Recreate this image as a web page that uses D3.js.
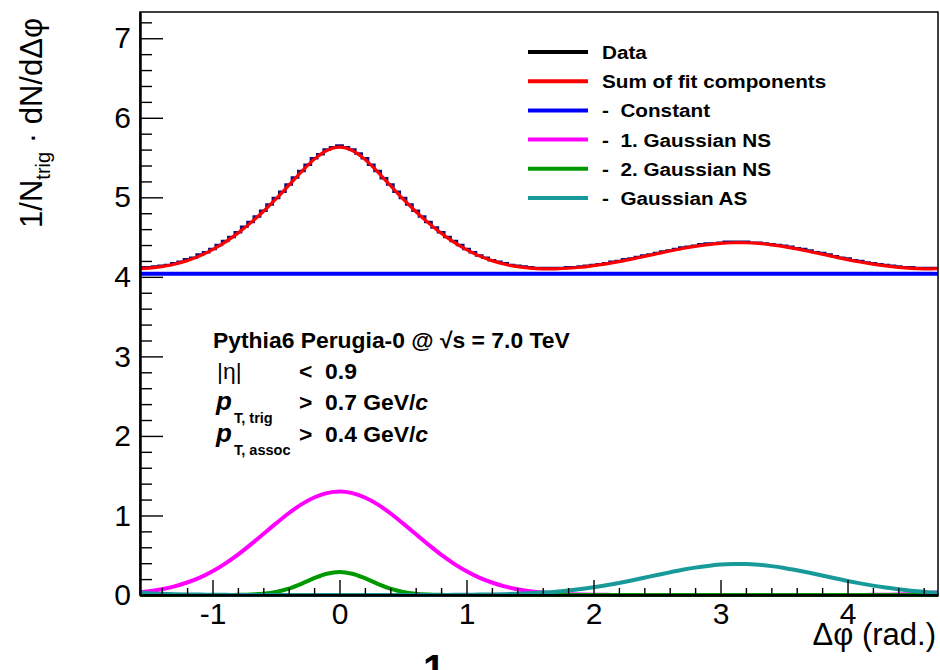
<!DOCTYPE html>
<html><head><meta charset="utf-8">
<script src="https://cdn.jsdelivr.net/npm/d3@7"></script>
<style>body{margin:0;background:#fff}svg{display:block}</style>
</head><body><svg id="c" width="940" height="670"></svg>
<script>
// ---- data ----
const phiGrid = [-1.5708,-1.5,-1.4,-1.3,-1.2,-1.1,-1.0,-0.9,-0.8,-0.7,-0.6,-0.5,-0.4,-0.3,-0.2,-0.1,0,0.1,0.2,0.3,0.4,0.5,0.6,0.7,0.8,0.9,1.0,1.1,1.2,1.3,1.4,1.5,1.6,1.7,1.8,1.9,2.0,2.1,2.2,2.3,2.4,2.5,2.6,2.7,2.8,2.9,3.0,3.1,3.2,3.3,3.4,3.5,3.6,3.7,3.8,3.9,4.0,4.1,4.2,4.3,4.4,4.5,4.6,4.7,4.7124];
const sumFit = [4.103,4.110,4.128,4.158,4.204,4.264,4.342,4.437,4.550,4.679,4.822,4.979,5.149,5.320,5.477,5.589,5.630,5.589,5.477,5.320,5.149,4.979,4.822,4.679,4.550,4.437,4.342,4.264,4.204,4.158,4.128,4.110,4.101,4.101,4.108,4.121,4.141,4.164,4.192,4.223,4.257,4.291,4.325,4.357,4.384,4.406,4.422,4.429,4.429,4.420,4.403,4.380,4.351,4.319,4.285,4.251,4.217,4.187,4.160,4.137,4.119,4.106,4.100,4.102,4.103];
const gaussNS1 = [0.035,0.048,0.073,0.108,0.157,0.219,0.299,0.395,0.507,0.633,0.766,0.900,1.028,1.139,1.226,1.281,1.300,1.281,1.226,1.139,1.028,0.900,0.766,0.633,0.507,0.395,0.299,0.219,0.157,0.108,0.073,0.048,0.030,0.019,0.011,0.006,0.004,0.002,0.001,0,0,0,0,0,0,0,0,0,0,0,0,0,0,0,0,0,0,0,0.002,0.004,0.007,0.012,0.020,0.033,0.035];
const gaussNS2 = [0,0,0,0,0,0,0,0,0.002,0.006,0.016,0.039,0.081,0.141,0.211,0.268,0.290,0.268,0.211,0.141,0.081,0.039,0.016,0.006,0.002,0,0,0,0,0,0,0,0,0,0,0,0,0,0,0,0,0,0,0,0,0,0,0,0,0,0,0,0,0,0,0,0,0,0,0,0,0,0,0,0];
const gaussAS = [0.028,0.022,0.015,0.010,0.007,0.005,0.003,0.002,0.001,0,0,0,0,0,0,0,0,0,0,0,0,0,0,0,0.001,0.002,0.003,0.005,0.007,0.010,0.015,0.022,0.031,0.042,0.057,0.075,0.097,0.122,0.151,0.183,0.217,0.251,0.285,0.317,0.344,0.366,0.382,0.389,0.389,0.380,0.363,0.340,0.311,0.279,0.245,0.211,0.177,0.146,0.118,0.093,0.072,0.054,0.040,0.029,0.028];
const constantLevel = [4.04];
// data histogram: bins of width 0.05 centred from -1.55 to 4.70
const dataFirstCenter = -1.55, dataBinWidth = 0.05;
const dataValues = [4.12,4.12,4.13,4.14,4.15,4.17,4.19,4.22,4.24,4.28,4.31,4.35,4.40,4.45,4.50,4.56,4.63,4.69,4.76,4.83,4.91,4.99,5.07,5.16,5.25,5.33,5.41,5.49,5.54,5.60,5.63,5.65,5.63,5.60,5.55,5.49,5.41,5.33,5.24,5.16,5.07,4.99,4.91,4.83,4.76,4.69,4.62,4.56,4.50,4.45,4.40,4.35,4.31,4.27,4.24,4.21,4.19,4.17,4.15,4.14,4.13,4.12,4.11,4.11,4.11,4.11,4.11,4.12,4.12,4.13,4.14,4.15,4.16,4.17,4.19,4.20,4.22,4.23,4.25,4.27,4.28,4.30,4.32,4.33,4.35,4.37,4.38,4.39,4.41,4.42,4.42,4.43,4.44,4.44,4.44,4.44,4.43,4.43,4.42,4.41,4.40,4.39,4.38,4.36,4.35,4.33,4.31,4.30,4.28,4.26,4.24,4.23,4.21,4.20,4.18,4.17,4.16,4.15,4.14,4.13,4.12,4.12,4.11,4.11,4.11,4.11];
const xMajorTicks = [-1,0,1,2,3,4];
const yMajorTicks = [0,1,2,3,4,5,6,7];
const legendLabels = ["Data","Sum of fit components","-  Constant","-  1. Gaussian NS","-  2. Gaussian NS","-  Gaussian AS"];
const legendColors = ["#000000","#ff0000","#0000ff","#ff00ff","#009a00","#189a9a"];

// ---- layout ----
const svg = d3.select("#c");
svg.append("rect").attr("width",940).attr("height",670).attr("fill","#fff");
const FL=140, FR=938, FT=12, FB=595;
const x = d3.scaleLinear().domain([-Math.PI/2, 3*Math.PI/2]).range([FL, FR]);
const y = d3.scaleLinear().domain([0, 7.33]).range([FB, FT]);
const font = "'Liberation Sans', Arial, Helvetica, sans-serif";

const xMinor = d3.range(-7,24).map(i=>+(i*0.2).toFixed(1)).filter(v=>v>-Math.PI/2 && v<3*Math.PI/2 && Math.abs(v-Math.round(v))>1e-6);
const yMinor = d3.range(1,37).map(i=>+(i*0.2).toFixed(1)).filter(v=>v<7.33 && Math.abs(v-Math.round(v))>1e-6);

// curves
svg.append("clipPath").attr("id","fr").append("rect")
  .attr("x",FL).attr("y",FT).attr("width",FR-FL).attr("height",FB-FT+3);
const plot = svg.append("g").attr("clip-path","url(#fr)");
const line = d3.line().x(d=>x(d[0])).y(d=>y(d[1])).curve(d3.curveCatmullRom);
const series = arr => phiGrid.map((p,i)=>[p,arr[i]]);

plot.append("path").datum(series(gaussNS1)).attr("d",line).attr("fill","none").attr("stroke",legendColors[3]).attr("stroke-width",4);
plot.append("path").datum(series(gaussNS2)).attr("d",line).attr("fill","none").attr("stroke",legendColors[4]).attr("stroke-width",4);
plot.append("path").datum(series(gaussAS)).attr("d",line).attr("fill","none").attr("stroke",legendColors[5]).attr("stroke-width",4);

plot.append("path").datum([[-Math.PI/2,constantLevel[0]],[3*Math.PI/2,constantLevel[0]]])
  .attr("d",d3.line().x(d=>x(d[0])).y(d=>y(d[1]))).attr("fill","none").attr("stroke",legendColors[2]).attr("stroke-width",4);

// data histogram (steps)
const dmin = -Math.PI/2, dmax = 3*Math.PI/2;
const steps = dataValues.map((v,i)=>[Math.max(dmin, dataFirstCenter + i*dataBinWidth - dataBinWidth/2), v]);
steps.push([dmax, dataValues[dataValues.length-1]]);
plot.append("path").datum(steps).attr("d", d3.line().x(d=>x(d[0])).y(d=>y(d[1])).curve(d3.curveStepAfter))
  .attr("fill","none").attr("stroke","#10107a").attr("stroke-width",2.5);

plot.append("path").datum(series(sumFit)).attr("d",line).attr("fill","none").attr("stroke",legendColors[1]).attr("stroke-width",3.2);

// frame
svg.append("rect").attr("x",FL).attr("y",FT).attr("width",FR-FL).attr("height",FB-FT)
  .attr("fill","none").attr("stroke","#000").attr("stroke-width",1.5);

// axes
svg.append("g").attr("transform",`translate(${FL},0)`)
  .call(d3.axisLeft(y).tickValues(yMajorTicks).tickSize(-23).tickSizeOuter(0).tickPadding(9).tickFormat(d3.format("d")));
svg.append("g").attr("transform",`translate(${FL},0)`)
  .call(d3.axisLeft(y).tickValues(yMinor).tickSize(-12).tickSizeOuter(0).tickFormat(""));
svg.append("g").attr("transform",`translate(0,${FB})`)
  .call(d3.axisBottom(x).tickValues(xMajorTicks).tickSize(-15).tickSizeOuter(0).tickPadding(8).tickFormat(d=>d<0?"-"+Math.abs(d):String(d)));
svg.append("g").attr("transform",`translate(0,${FB})`)
  .call(d3.axisBottom(x).tickValues(xMinor).tickSize(-7).tickSizeOuter(0).tickFormat(""));
svg.selectAll(".domain").attr("stroke","#000").attr("stroke-width",2);
svg.selectAll(".tick line").attr("stroke","#000").attr("stroke-width",1.4);
svg.selectAll(".tick text").attr("font-family",font).attr("font-size",30).attr("fill","#000");

// axis titles
const yt = svg.append("text").attr("transform","translate(42,18) rotate(-90)")
  .attr("text-anchor","end").attr("font-family",font).attr("font-size",31).attr("fill","#000");
yt.append("tspan").text("1/N");
yt.append("tspan").attr("font-size",20).attr("dy",8).text("trig");
yt.append("tspan").attr("dy",-8).text(" · dN/dΔφ");

svg.append("text").attr("x",936).attr("y",645).attr("text-anchor","end")
  .attr("font-family",font).attr("font-size",31).attr("fill","#000").text("Δφ (rad.)");

svg.append("text").attr("x",434).attr("y",683).attr("text-anchor","middle")
  .attr("font-family",font).attr("font-size",40).attr("font-weight","bold").attr("fill","#000").text("1");

// legend
const rowY = d3.scaleLinear().domain([0,5]).range([52,198]);
const lg = svg.append("g");
legendLabels.forEach((lab,i)=>{
  lg.append("line").attr("x1",528).attr("x2",588).attr("y1",rowY(i)).attr("y2",rowY(i))
    .attr("stroke",legendColors[i]).attr("stroke-width",4);
  lg.append("text").attr("transform",`translate(602,${rowY(i)+7}) scale(1.09,1)`).attr("font-family",font).attr("font-weight","bold")
    .attr("font-size",19).attr("fill","#000").style("white-space","pre").text(lab);
});

// annotation
const ann = svg.append("g").attr("font-family",font).attr("font-weight","bold").attr("font-size",22).attr("fill","#000");
const ax1 = 213, ax2 = 299;
const st = (xx,yy)=>ann.append("text").attr("transform",`translate(${xx},${yy}) scale(1.04,1)`).style("white-space","pre");
st(ax1,348).text("Pythia6 Perugia-0 @ √s = 7.0 TeV");
st(ax1+4,379).attr("font-weight","normal").text("|η|");
st(ax2,379).text("<  0.9");
const t3 = st(ax1+3,410);
t3.append("tspan").attr("font-style","italic").attr("font-size",25).text("p");
t3.append("tspan").attr("font-size",14).attr("dx",2).attr("dy",13).text("T, trig");
st(ax2,410).text(">  0.7 GeV/").append("tspan").attr("font-style","italic").text("c");
const t4 = st(ax1+3,442);
t4.append("tspan").attr("font-style","italic").attr("font-size",25).text("p");
t4.append("tspan").attr("font-size",14).attr("dx",2).attr("dy",13).text("T, assoc");
st(ax2,442).text(">  0.4 GeV/").append("tspan").attr("font-style","italic").text("c");
</script></body></html>
